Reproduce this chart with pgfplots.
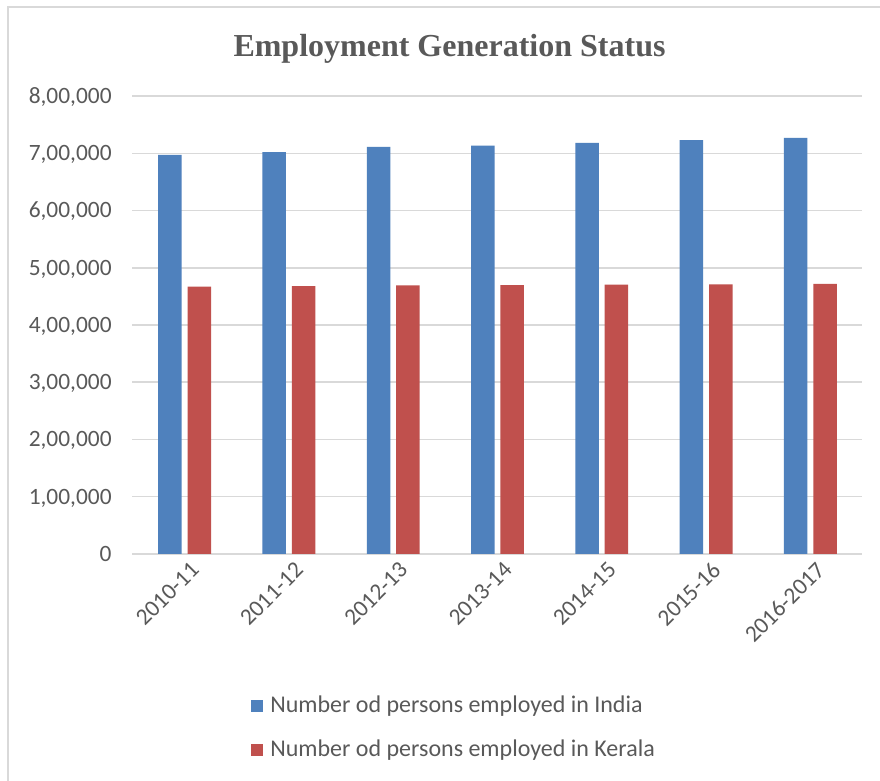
\documentclass[border=0pt]{standalone}
\usepackage{pgfplots}
\pgfplotsset{compat=1.18}
\usepackage{fontspec}
\setmainfont{Carlito}
\newfontfamily\titlefont{Liberation Serif}
\definecolor{ind}{HTML}{4F81BD}
\definecolor{ker}{HTML}{C0504D}
\definecolor{txt}{HTML}{595959}
\definecolor{gridc}{HTML}{D9D9D9}
\begin{document}
\begin{tikzpicture}
\useasboundingbox (0,0) rectangle (440pt,390.5pt);
\fill[white] (0,0) rectangle (440pt,390.5pt);
\draw[gridc, line width=0.6pt] (4pt,0) -- (4pt,387pt) -- (440pt,387pt);
\node[anchor=base, font=\titlefont\bfseries\fontsize{16}{19}\selectfont, text=txt] at (224.75pt,362pt) {Employment Generation Status};
\begin{axis}[
  at={(66.25pt,113.5pt)}, anchor=south west,
  scale only axis, width=365pt, height=229pt,
  ybar=2.95pt, bar width=11.75pt,
  xmin=-0.5, xmax=6.5, ymin=0, ymax=800000,
  scaled y ticks=false,
  xtick={0,1,2,3,4,5,6},
  xticklabels={2010-11,2011-12,2012-13,2013-14,2014-15,2015-16,2016-2017},
  ytick={0,100000,200000,300000,400000,500000,600000,700000,800000},
  yticklabels={0,{1,00,000},{2,00,000},{3,00,000},{4,00,000},{5,00,000},{6,00,000},{7,00,000},{8,00,000}},
  separate axis lines,
  axis x line*=bottom, axis y line*=left,
  x axis line style={gridc, line width=0.75pt, -},
  y axis line style={draw=none},
  major tick length=0pt, tick style={draw=none},
  ymajorgrids, grid style={gridc, line width=0.75pt},
  tick label style={font=\fontsize{11.7}{14}\selectfont, text=txt},
  yticklabel style={anchor=base east, inner sep=0pt, xshift=-10.25pt, yshift=-3.7pt},
  xticklabel style={rotate=45, anchor=east, inner sep=0pt, xshift=-0.5pt, yshift=-8pt},
  legend style={at={(0.4418,-0.3799)}, anchor=center, draw=none, fill=none,
    legend columns=1, row sep=8pt, font=\fontsize{12}{14}\selectfont, text=txt},
  legend cell align=left,
  legend image code/.code={\fill[#1] (0pt,-3pt) rectangle (6pt,3pt); \path (7.5pt,0pt);},
]
\addplot[fill=ind, draw=none] coordinates {(0,697000) (1,702000) (2,711000) (3,713500) (4,718000) (5,723000) (6,727000)};
\addplot[fill=ker, draw=none] coordinates {(0,467000) (1,468000) (2,469000) (3,469500) (4,470500) (5,471000) (6,472000)};
\legend{Number od persons employed in India, Number od persons employed in Kerala}
\end{axis}
\end{tikzpicture}
\end{document}
